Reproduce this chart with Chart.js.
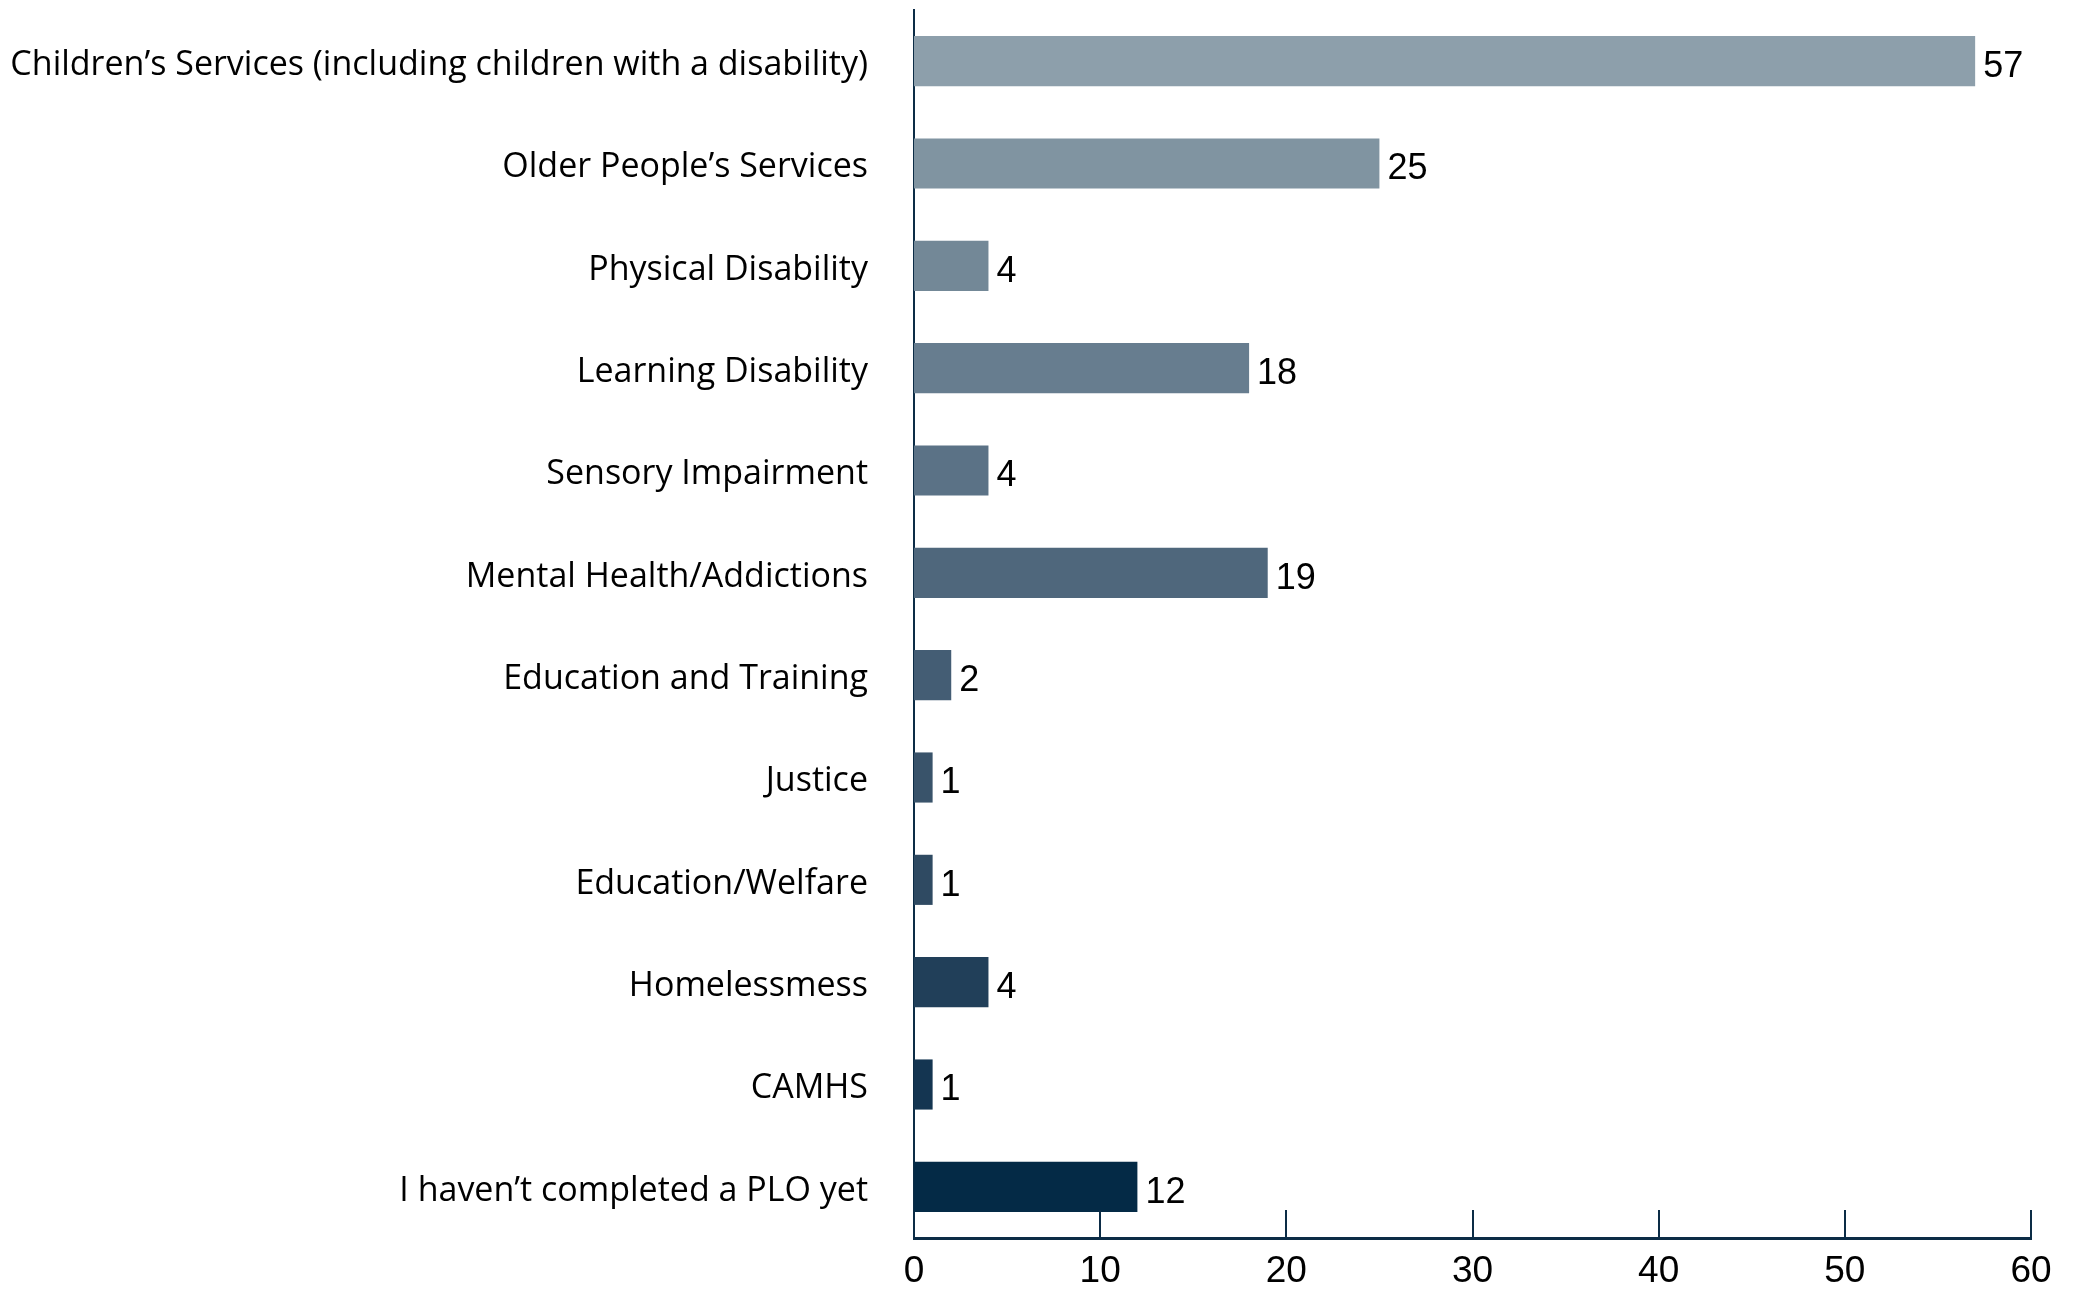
<!DOCTYPE html>
<html>
<head>
<meta charset="utf-8">
<script src="https://cdn.jsdelivr.net/npm/chart.js@4.4.0/dist/chart.umd.min.js"></script>
<style>
  html, body { margin: 0; padding: 0; background: #fff; }
  #wrap { width: 2078px; height: 1289px; position: relative; }
</style>
</head>
<body>
<div id="wrap"><canvas id="chart" width="2078" height="1289"></canvas></div>
<script>
// categories, top to bottom
const categories = [
  'Children\u2019s Services (including children with a disability)',
  'Older People\u2019s Services',
  'Physical Disability',
  'Learning Disability',
  'Sensory Impairment',
  'Mental Health/Addictions',
  'Education and Training',
  'Justice',
  'Education/Welfare',
  'Homelessmess',
  'CAMHS',
  'I haven\u2019t completed a PLO yet'
];
const counts = [57, 25, 4, 18, 4, 19, 2, 1, 1, 4, 1, 12];
const xTicks = [0, 10, 20, 30, 40, 50, 60];

// one shade per bar, light grey-blue to navy
const barColors = [
  '#8d9fab', '#8094a1', '#738897', '#677d8f', '#5b7286', '#4f677c',
  '#445d74', '#39536a', '#2f4a62', '#213f59', '#143551', '#042a46'
];

const AXIS = '#0c2c46';
const LABEL_FONT = "'Liberation Sans', Arial, sans-serif";
const CAT_FONT = "'Open Sans', 'Noto Sans', sans-serif";

// short tick marks drawn upward from the x axis, plus value labels
const extras = {
  id: 'extras',
  afterDatasetsDraw(chart) {
    const ctx = chart.ctx;
    const x = chart.scales.x;
    const area = chart.chartArea;
    ctx.save();
    ctx.strokeStyle = AXIS;
    ctx.lineWidth = 2;
    xTicks.forEach(v => {
      if (v === 0) return;
      const px = Math.round(x.getPixelForValue(v));
      ctx.beginPath();
      ctx.moveTo(px, area.bottom);
      ctx.lineTo(px, area.bottom - 28);
      ctx.stroke();
    });

    const meta = chart.getDatasetMeta(0);
    ctx.fillStyle = '#000';
    ctx.font = '36px ' + LABEL_FONT;
    ctx.textAlign = 'left';
    ctx.textBaseline = 'middle';
    meta.data.forEach((bar, i) => {
      const p = bar.getProps(['x', 'y'], true);
      ctx.fillText(String(counts[i]), p.x + 8, p.y + 6);
    });
    ctx.restore();
  }
};

new Chart(document.getElementById('chart'), {
  type: 'bar',
  data: {
    labels: categories,
    datasets: [{
      data: counts,
      backgroundColor: barColors,
      borderWidth: 0,
      categoryPercentage: 1,
      barPercentage: 0.49
    }]
  },
  options: {
    indexAxis: 'y',
    responsive: false,
    animation: false,
    layout: { padding: { top: 10, right: 47, left: 0, bottom: 0 } },
    plugins: {
      legend: { display: false },
      tooltip: { enabled: false }
    },
    scales: {
      x: {
        min: 0,
        max: 60,
        afterBuildTicks: s => { s.ticks = xTicks.map(v => ({ value: v })); },
        afterFit: s => { s.height = 51; s.paddingLeft = 0; s.paddingRight = 0; },
        grid: { display: false, drawTicks: false },
        border: { display: true, color: AXIS, width: 3 },
        ticks: {
          color: '#000',
          padding: 12,
          maxRotation: 0,
          font: { family: LABEL_FONT, size: 37 }
        }
      },
      y: {
        afterFit: s => { s.width = 914; s.paddingTop = 0; s.paddingBottom = 0; },
        grid: { display: false, drawTicks: false },
        border: { display: true, color: AXIS, width: 2 },
        ticks: {
          color: '#000',
          padding: 46,
          labelOffset: 4,
          autoSkip: false,
          font: { family: CAT_FONT, size: 34, weight: '500' }
        }
      }
    }
  },
  plugins: [extras]
});
</script>
</body>
</html>
